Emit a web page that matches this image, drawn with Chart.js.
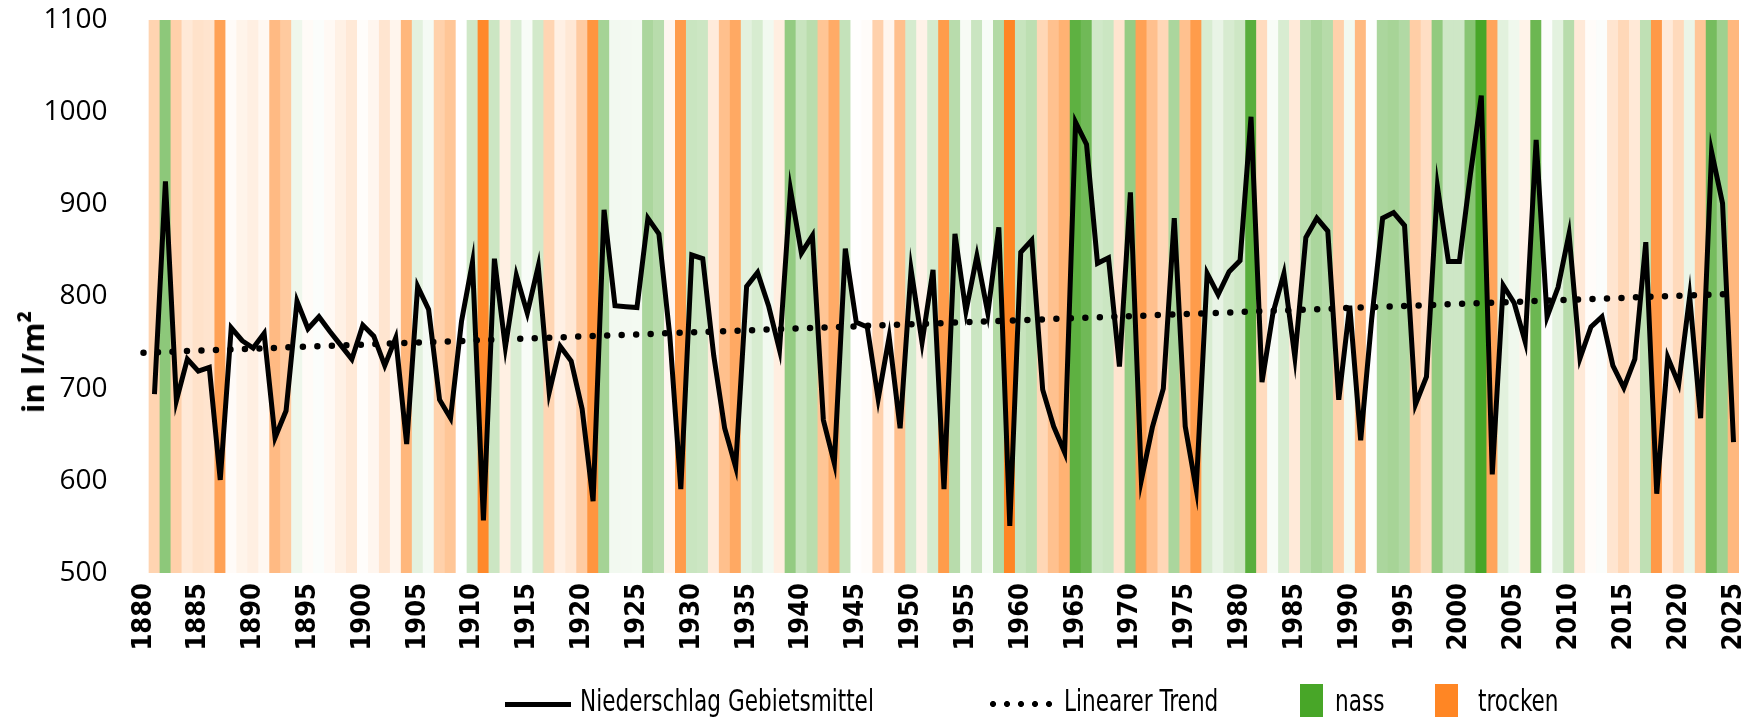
<!DOCTYPE html>
<html>
<head>
<meta charset="utf-8">
<script src="https://cdn.jsdelivr.net/npm/chart.js@4/dist/chart.umd.min.js"></script>
<style>
  html, body { margin: 0; padding: 0; background: #fff; }
  #wrap { position: relative; width: 1745px; height: 717px; overflow: hidden; }
  #ytitle {
    position: absolute; left: 32px; top: 362px;
    transform: translate(-50%, -50%) rotate(-90deg);
    font: bold 31px "Open Sans", sans-serif; white-space: nowrap; color: #000;
  }
  .lg { position: absolute; font: 30px "DejaVu Sans Condensed", sans-serif; line-height: 30px; top: 686px;
        white-space: nowrap; color: #000; transform: scaleX(0.8); transform-origin: 0 0; }
  .lg-line { position: absolute; top: 702px; height: 5px; background: #000; }
  .lg-dots { position: absolute; top: 700px; height: 8px;
    background: radial-gradient(circle, #000 2.7px, transparent 3.3px) 0 0 / 14px 8px repeat-x; }
  .lg-box { position: absolute; top: 684px; width: 23px; height: 40px; }
</style>
</head>
<body>
<div id="wrap">
  <canvas id="mychart" width="1745" height="717"></canvas>
  <div id="ytitle">in l/m²</div>
  <div id="legend"></div>
</div>
<script>
// Niederschlag Gebietsmittel, Jahreswerte ab 1881 (in l/m²)
const firstYear = 1881;
const precipitation = [
  694, 925, 687, 732, 719, 723, 601, 766, 752, 744,
  760, 647, 676, 795, 765, 778, 762, 747, 732, 769,
  757, 725, 755, 640, 811, 786, 688, 668, 773, 837,
  557, 841, 745, 823, 782, 833, 696, 746, 730, 678,
  578, 894, 790, 789, 788, 885, 868, 757, 591, 845,
  841, 736, 657, 615, 811, 826, 790, 742, 916, 847,
  866, 666, 619, 852, 772, 767, 689, 756, 657, 829,
  750, 829, 591, 868, 784, 844, 782, 875, 551, 848,
  861, 699, 659, 631, 989, 965, 836, 842, 724, 913,
  601, 658, 700, 885, 659, 591, 825, 802, 827, 839,
  995, 707, 782, 825, 734, 864, 885, 871, 688, 790,
  644, 775, 885, 891, 877, 683, 713, 919, 838, 838,
  932, 1018, 607, 812, 793, 751, 970, 778, 810, 868,
  733, 767, 778, 725, 701, 732, 859, 586, 734, 705,
  800, 668, 957, 901, 642
];
const years = precipitation.map((_, i) => firstYear + i);

// Linearer Trend (Endpunkte)
const trendYears = [1880, 2025];
const trendValues = [739, 803];

const yTicks = [500, 600, 700, 800, 900, 1000, 1100];
const xTicks = [1880, 1885, 1890, 1895, 1900, 1905, 1910, 1915, 1920, 1925, 1930, 1935, 1940,
  1945, 1950, 1955, 1960, 1965, 1970, 1975, 1980, 1985, 1990, 1995, 2000, 2005, 2010, 2015, 2020, 2025];

const legendItems = ["Niederschlag Gebietsmittel", "Linearer Trend", "nass", "trocken"];

// Farbskala der Streifen
const WET = [72, 166, 40];
const DRY = [255, 134, 36];
const NEUTRAL = 773;
const vMax = Math.max(...precipitation);
const vMin = Math.min(...precipitation);

function stripeColor(v) {
  let t, c;
  if (v >= NEUTRAL) { t = (v - NEUTRAL) / (vMax - NEUTRAL); c = WET; }
  else { t = (NEUTRAL - v) / (NEUTRAL - vMin); c = DRY; }
  t = Math.max(0, Math.min(1, t));
  const mix = k => Math.round(255 + (c[k] - 255) * t);
  return `rgb(${mix(0)}, ${mix(1)}, ${mix(2)})`;
}

const ctx = document.getElementById("mychart");

const data = {
  datasets: [
    {
      type: "line",
      label: legendItems[0],
      data: years.map((y, i) => ({ x: y, y: precipitation[i] })),
      borderColor: "#000",
      borderWidth: 5,
      pointRadius: 0,
      tension: 0,
      order: 0,
    },
    {
      type: "line",
      label: legendItems[1],
      data: trendYears.map((y, i) => ({ x: y, y: trendValues[i] })),
      borderColor: "#000",
      borderWidth: 6.5,
      borderDash: [0, 14.5],
      borderCapStyle: "round",
      pointRadius: 0,
      order: 1,
      clip: false,
    },
    {
      type: "bar",
      label: "Streifen",
      data: years.map(y => ({ x: y, y: [yTicks[0], yTicks[yTicks.length - 1]] })),
      backgroundColor: precipitation.map(stripeColor),
      barPercentage: 1,
      categoryPercentage: 1,
      borderWidth: 0,
      order: 2,
    },
  ],
};

const PLOT_TOP = 20;

const config = {
  type: "bar",
  data: data,
  options: {
    responsive: false,
    animation: false,
    events: [],
    layout: { padding: { top: PLOT_TOP, right: 6, bottom: 0, left: 0 } },
    plugins: { legend: { display: false }, tooltip: { enabled: false } },
    scales: {
      x: {
        type: "linear",
        min: 1880,
        max: 2025.5,
        offset: false,
        grid: { display: false, drawTicks: false },
        border: { display: false },
        afterBuildTicks: axis => { axis.ticks = xTicks.map(v => ({ value: v })); },
        afterFit: axis => { axis.height = 717 - 573; axis.paddingLeft = 0; axis.paddingRight = 0; },
        ticks: {
          autoSkip: false,
          minRotation: 90,
          maxRotation: 90,
          padding: 10,
          color: "#000",
          font: { family: "'DejaVu Sans Condensed', sans-serif", size: 27, weight: "bold" },
          callback: v => String(v),
        },
      },
      y: {
        min: yTicks[0],
        max: yTicks[yTicks.length - 1],
        grid: { display: false, drawTicks: false },
        border: { display: false },
        afterBuildTicks: axis => { axis.ticks = yTicks.map(v => ({ value: v })); },
        afterFit: axis => { axis.width = 143.5; axis.paddingTop = 0; axis.paddingBottom = 0; },
        ticks: {
          padding: 36,
          color: "#000",
          font: { family: "'Open Sans', sans-serif", size: 28 },
          callback: v => String(v),
        },
      },
    },
  },
};

const chart = new Chart(ctx, config);
// Plotfläche oben exakt ausrichten
const dTop = PLOT_TOP - chart.chartArea.top;
if (Math.abs(dTop) > 0.5) {
  chart.options.layout.padding.top += dTop;
  chart.update();
}

// Legende
const legend = document.getElementById("legend");
legend.innerHTML =
  `<div class="lg-line" style="left:505px;width:66px"></div>` +
  `<div class="lg" style="left:580px">${legendItems[0]}</div>` +
  `<div class="lg-dots" style="left:986px;width:70px"></div>` +
  `<div class="lg" style="left:1064px">${legendItems[1]}</div>` +
  `<div class="lg-box" style="left:1300px;background:rgb(${WET.join(",")})"></div>` +
  `<div class="lg" style="left:1335px">${legendItems[2]}</div>` +
  `<div class="lg-box" style="left:1435px;background:rgb(${DRY.join(",")})"></div>` +
  `<div class="lg" style="left:1478px">${legendItems[3]}</div>`;
</script>
</body>
</html>
